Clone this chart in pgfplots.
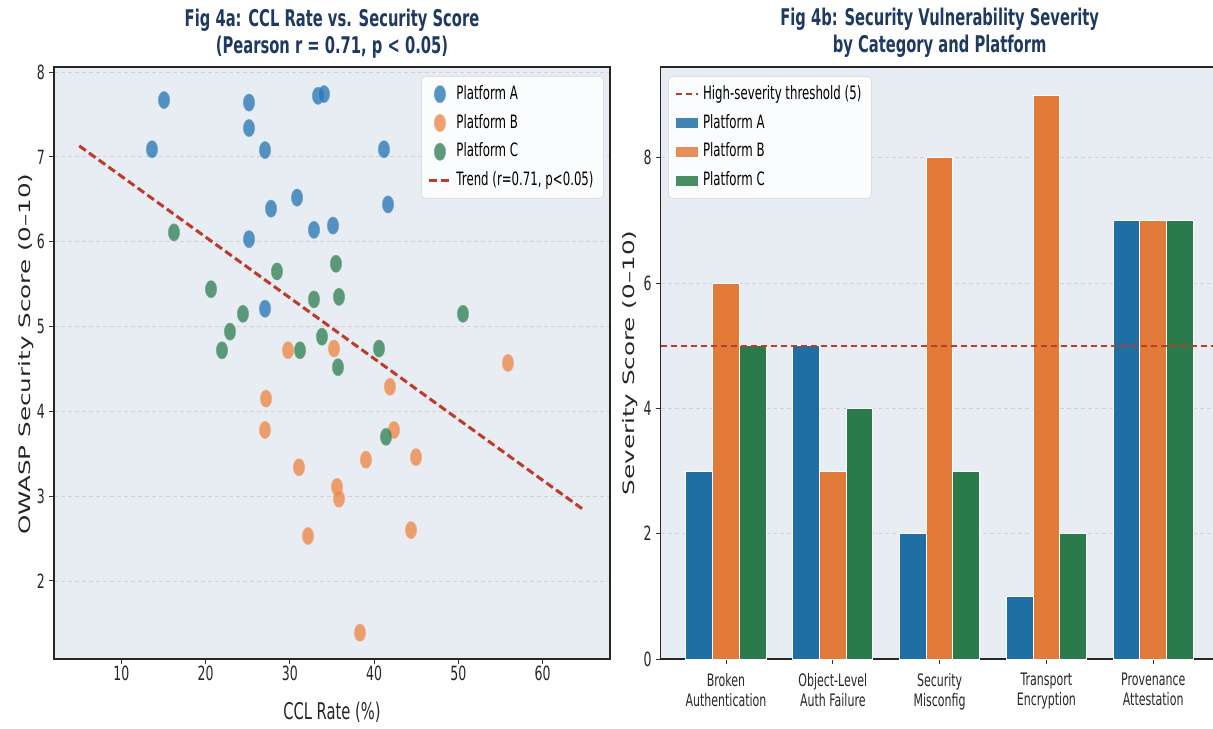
\documentclass[border=0pt]{standalone}
\usepackage{fontspec}
\setmainfont{DejaVu Sans}[FakeStretch=0.64]
\newfontfamily\ylfont{DejaVu Sans}
\usepackage{graphicx}
\usepackage{pgfplots}
\pgfplotsset{compat=1.18}

\definecolor{bgc}{RGB}{232,237,244}
\definecolor{titlec}{RGB}{30,58,98}
\definecolor{cA}{RGB}{31,111,165}
\definecolor{cB}{RGB}{226,123,58}
\definecolor{cC}{RGB}{43,122,75}
\definecolor{sA}{RGB}{40,120,180}
\definecolor{sB}{RGB}{236,135,70}
\definecolor{sC}{RGB}{50,130,85}
\definecolor{redc}{RGB}{192,57,43}

\pgfplotsset{
  panel/.style={
    scale only axis,
    axis background/.style={fill=bgc},
    axis line style={black!85, line width=0.6pt},
    tick pos=left, tick align=outside,
    major tick length=2.5pt,
    tick style={black!80, line width=0.5pt},
    ymajorgrids,
    grid style={gray!35, dash pattern=on 2pt off 1.5pt, line width=0.4pt},
    tick label style={font=\fontsize{9.8}{11}\selectfont, text=black!85},
    yticklabel style={xshift=1.5pt},
    /pgf/number format/assume math mode=true,
    xlabel style={font=\fontsize{11.5}{13}\selectfont, text=black!85},
    ylabel style={font=\fontsize{12.3}{14}\ylfont\selectfont, text=black!85},
    title style={font=\bfseries\fontsize{11.5}{13.5}\selectfont, text=titlec, align=center, at={(0.5,1)}, anchor=south, yshift=-5pt},
    legend style={font=\fontsize{9.2}{11}\selectfont, fill=white, fill opacity=0.85, text opacity=1,
      draw=gray!25, rounded corners=2pt, cells={anchor=west},
      nodes={inner ysep=1.5pt, text height=8pt, text depth=2.8pt}, row sep=0.6pt},
  },
  dot/.style={only marks, mark=*, mark size=4.3pt,
    mark options={xscale=0.66, fill=#1, fill opacity=0.78, draw=#1!70!white, draw opacity=0.8, line width=0.3pt},
    legend image code/.code={\draw[##1] plot coordinates {(5.5pt,0pt)};}},
  bars/.style={ybar, bar width=0.25, bar shift=0pt, fill=#1, draw=white, line width=0.5pt,
    legend image code/.code={\path[sharp corners, fill=#1] (0pt,-2.75pt) rectangle (11.5pt,2.75pt);}},
  dashline/.style={legend image code/.code={\draw[sharp corners, ##1] (0pt,0pt) -- (11pt,0pt);}},
  thr/.style={redc, line width=1.2pt, dash pattern=on 3.2pt off 1.8pt},
}

\begin{document}
\begin{tikzpicture}
\useasboundingbox (0,0) rectangle (606.5pt,364pt);

% Fig 4a: scatter
\begin{axis}[panel,
  at={(27pt,34.5pt)}, anchor=south west,
  width=278pt, height=296pt,
  xmin=2, xmax=68, ymin=1.08, ymax=8.06,
  xtick={10,20,30,40,50,60}, ytick={2,3,4,5,6,7,8},
  xticklabel style={yshift=2.5pt},
  xlabel={CCL Rate (\%)},
  ylabel={\scalebox{1}[0.64]{OWASP Security Score (0–10)}},
  xlabel style={at={(axis description cs:0.5,-0.0895)}, anchor=center},
  ylabel style={at={(axis description cs:-0.05,0.515)}, anchor=center},
  title={Fig 4a: CCL Rate vs. Security Score\\(Pearson r = 0.71, p < 0.05)},
  legend style={at={(1,1)}, anchor=north east, xshift=-3pt, yshift=-4.5pt},
]
\addplot[dot=sA] coordinates {
  (15.06,7.67) (25.15,7.64) (25.15,7.34) (13.63,7.09) (27.05,7.08)
  (33.34,7.72) (34.05,7.74) (41.17,7.09) (30.85,6.52) (27.76,6.39)
  (25.15,6.03) (32.86,6.14) (35.12,6.19) (41.65,6.44) (27.05,5.21)
};
\addlegendentry{Platform A}
\addplot[dot=sB] coordinates {
  (29.78,4.72) (35.24,4.74) (27.17,4.15) (27.05,3.78) (31.08,3.34)
  (35.59,3.11) (35.83,2.97) (32.15,2.53) (55.89,4.57) (41.88,4.29)
  (42.36,3.78) (39.03,3.43) (44.97,3.46) (44.38,2.60) (38.32,1.39)
};
\addlegendentry{Platform B}
\addplot[dot=sC] coordinates {
  (16.24,6.11) (28.47,5.65) (20.64,5.44) (35.47,5.74) (32.86,5.32)
  (35.83,5.35) (24.43,5.15) (22.89,4.94) (21.94,4.72) (31.20,4.72)
  (33.81,4.88) (35.71,4.52) (50.55,5.15) (40.58,4.74) (41.41,3.70)
};
\addlegendentry{Platform C}
\addplot[dashline, redc, line width=1.5pt, dash pattern=on 4pt off 2pt] coordinates {(5,7.13) (65,2.83)};
\addlegendentry{Trend (r=0.71, p<0.05)}
\end{axis}

% Fig 4b: grouped bars
\begin{axis}[panel,
  at={(330.3pt,34.5pt)}, anchor=south west,
  width=279pt, height=296pt,
  xmin=-0.6125, xmax=4.6125, ymin=0, ymax=9.45,
  xtick={0,1,2,3,4}, ytick={0,2,4,6,8},
  xticklabels={{Broken\\Authentication},{Object-Level\\Auth Failure},{Security\\Misconfig},{Transport\\Encryption},{Provenance\\Attestation}},
  x tick label style={align=center, font=\fontsize{8.6}{10}\selectfont, yshift=-1pt},
  ylabel={\scalebox{1}[0.64]{Severity Score (0–10)}},
  ylabel style={at={(axis description cs:-0.0548,0.5)}, anchor=center},
  title={Fig 4b: Security Vulnerability Severity\\by Category and Platform},
  legend style={at={(0,1)}, anchor=north west, xshift=3.7pt, yshift=-4.5pt},
]
\addlegendimage{dashline, thr}
\addlegendentry{High-severity threshold (5)}
\addplot[bars=cA] coordinates {(-0.25,3) (0.75,5) (1.75,2) (2.75,1) (3.75,7)};
\addlegendentry{Platform A}
\addplot[bars=cB] coordinates {(0,6) (1,3) (2,8) (3,9) (4,7)};
\addlegendentry{Platform B}
\addplot[bars=cC] coordinates {(0.25,5) (1.25,4) (2.25,3) (3.25,2) (4.25,7)};
\addlegendentry{Platform C}
\addplot[thr, forget plot] coordinates {(-0.6125,5) (4.6125,5)};
\end{axis}
\end{tikzpicture}
\end{document}
